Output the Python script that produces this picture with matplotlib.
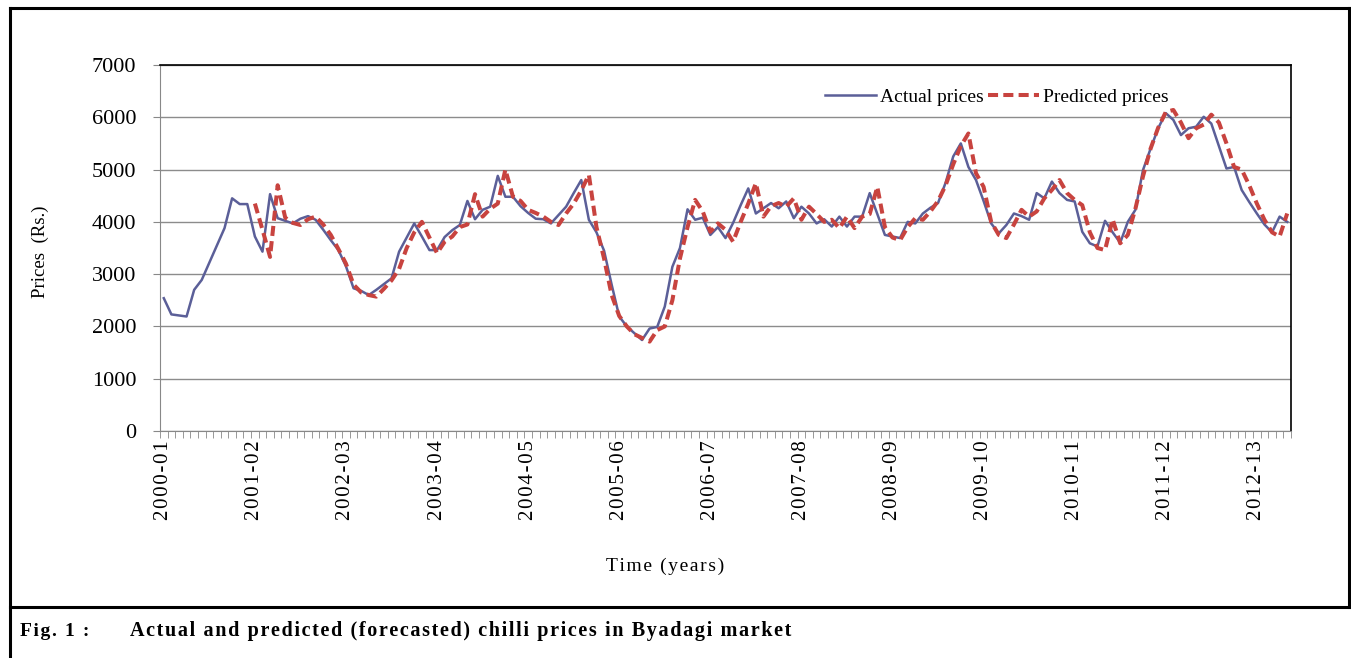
import numpy as np
import matplotlib.pyplot as plt
from matplotlib.lines import Line2D

# monthly chilli prices (Rs.), Byadagi market
years = ["2000-01", "2001-02", "2002-03", "2003-04", "2004-05", "2005-06", "2006-07",
         "2007-08", "2008-09", "2009-10", "2010-11", "2011-12", "2012-13"]

actual = [2540, 2230, 2210, 2190, 2700, 2890, 3220, 3550, 3880, 4450,
          4340, 4340, 3720, 3430, 4530, 4070, 4020, 3970, 4060, 4110,
          4040, 3850, 3650, 3460, 3150, 2730, 2680, 2600, 2700, 2810,
          2920, 3430, 3700, 3970, 3720, 3460, 3460, 3710, 3840, 3940,
          4400, 4050, 4230, 4290, 4880, 4480, 4480, 4300, 4170, 4060,
          4050, 3970, 4130, 4290, 4550, 4800, 4040, 3800, 3450, 2800,
          2190, 2000, 1870, 1740, 1960, 1990, 2380, 3140, 3500, 4240,
          4040, 4080, 3750, 3900, 3690, 3980, 4320, 4640, 4160, 4260,
          4360, 4260, 4390, 4070, 4290, 4160, 3970, 4050, 3910, 4100,
          3910, 4100, 4100, 4550, 4150, 3750, 3720, 3690, 4000, 3970,
          4160, 4270, 4360, 4750, 5250, 5500, 5050, 4800, 4400, 3970,
          3780, 3940, 4160, 4110, 4040, 4550, 4450, 4770, 4550, 4420,
          4390, 3810, 3590, 3530, 4020, 3800, 3600, 4000, 4230, 4990,
          5400, 5790, 6080, 5950, 5660, 5790, 5820, 6010, 5880, 5450,
          5020, 5050, 4610, 4380, 4160, 3950, 3800, 4100, 4000]

# forecasts start one year in (month index 12)
pred_start = 12
predicted = [4350, 3850, 3330, 4700, 4080, 3980, 3940, 4050, 4100, 3950,
             3750, 3480, 3200, 2800, 2650, 2600, 2570, 2720, 2880, 3100,
             3500, 3800, 4000, 3700, 3400, 3620, 3720, 3900, 3950, 4530,
             4100, 4250, 4350, 5000, 4480, 4400, 4230, 4170, 4100, 4000,
             3940, 4160, 4350, 4600, 4900, 3900, 3300, 2600, 2200, 2000,
             1850, 1780, 1710, 1930, 2000, 2500, 3300, 3900, 4420, 4200,
             3810, 3970, 3850, 3620, 4000, 4350, 4740, 4100, 4300, 4360,
             4290, 4450, 4040, 4290, 4150, 4000, 4040, 3880, 4100, 3880,
             4100, 4150, 4670, 3900, 3700, 3650, 3900, 4070, 4040, 4200,
             4400, 4700, 5100, 5450, 5690, 4930, 4670, 4000, 3750, 3690,
             3950, 4230, 4100, 4200, 4450, 4610, 4800, 4550, 4420, 4320,
             3800, 3500, 3460, 4050, 3590, 3750, 4250, 4870, 5400, 5800,
             6100, 6140, 5900, 5600, 5790, 5860, 6050, 5900, 5500, 5050,
             5000, 4700, 4350, 4040, 3800, 3720, 4160]

n = len(actual)
x = np.arange(n)
x_pred = np.arange(pred_start, pred_start + len(predicted))


def spaced(s):
    # loose letter spacing of the printed figure
    return '\u200a'.join(s)


plt.rcParams['font.family'] = ['Liberation Serif', 'DejaVu Serif']

fig = plt.figure(figsize=(13.51, 6.58), dpi=100)
ax = fig.add_axes([160 / 1351, 1 - 431 / 658, 1131 / 1351, 366 / 658])

ax.plot(x, actual, color='#5b5f98', linewidth=1.8, label='Actual prices')
ax.plot(x_pred, predicted, color='#c8433f', linewidth=2.9, linestyle=(0, (2.5, 1.3)),
        label='Predicted prices')

ax.set_xlim(-0.5, n - 0.5)
ax.set_ylim(0, 7000)
ax.set_yticks(range(0, 7001, 1000))
ax.tick_params(axis='y', labelsize=16, length=5, color='#888888', pad=12)
ax.grid(axis='y', color='#8c8c8c', linewidth=1)
ax.set_axisbelow(True)

ax.set_xticks(np.arange(0, n, 12))
ax.set_xticklabels([spaced(y) for y in years], rotation=90, fontsize=15)
ax.tick_params(axis='x', which='major', length=0, pad=6.5)
ax.set_xticks(np.arange(-0.5, n, 1), minor=True)
ax.tick_params(axis='x', which='minor', length=5, color='#888888')

for side in ['left', 'bottom']:
    ax.spines[side].set_color('#888888')
for side in ['top', 'right']:
    ax.spines[side].set_color('black')
    ax.spines[side].set_linewidth(1.2)

ax.set_ylabel('Prices  (Rs.)', fontsize=13.5)
ax.yaxis.set_label_coords((40 - 160) / 1131, 0.49)
ax.set_xlabel(spaced('Time (years)'), fontsize=14)
ax.xaxis.set_label_coords((665 - 160) / 1131, -(566 - 431) / 366)
ax.xaxis.label.set_va('center')
ax.yaxis.label.set_va('center')

ax.legend(loc='center', bbox_to_anchor=(997 / 1351, 1 - 97 / 658),
          bbox_transform=fig.transFigure, ncol=2, frameon=False, fontsize=14,
          handlelength=2.6, handletextpad=0.2, columnspacing=0.25)

# outer frame and caption strip
lw = 2.2
fig.add_artist(Line2D([10 / 1351, 10 / 1351], [0, 1 - 8 / 658], color='black', lw=lw))
fig.add_artist(Line2D([10 / 1351, 1349 / 1351], [1 - 8 / 658, 1 - 8 / 658], color='black', lw=lw))
fig.add_artist(Line2D([1349 / 1351, 1349 / 1351], [1 - 607 / 658, 1 - 8 / 658], color='black', lw=lw))
fig.add_artist(Line2D([10 / 1351, 1349 / 1351], [1 - 607 / 658, 1 - 607 / 658], color='black', lw=lw))

fig.text(20 / 1351, 1 - 631 / 658, spaced('Fig. 1 :'), fontsize=14, fontweight='bold', va='center')
fig.text(130 / 1351, 1 - 631 / 658,
         spaced('Actual and predicted (forecasted) chilli prices in Byadagi market'),
         fontsize=14.5, fontweight='bold', va='center')

fig.savefig('out.png', dpi=100)
